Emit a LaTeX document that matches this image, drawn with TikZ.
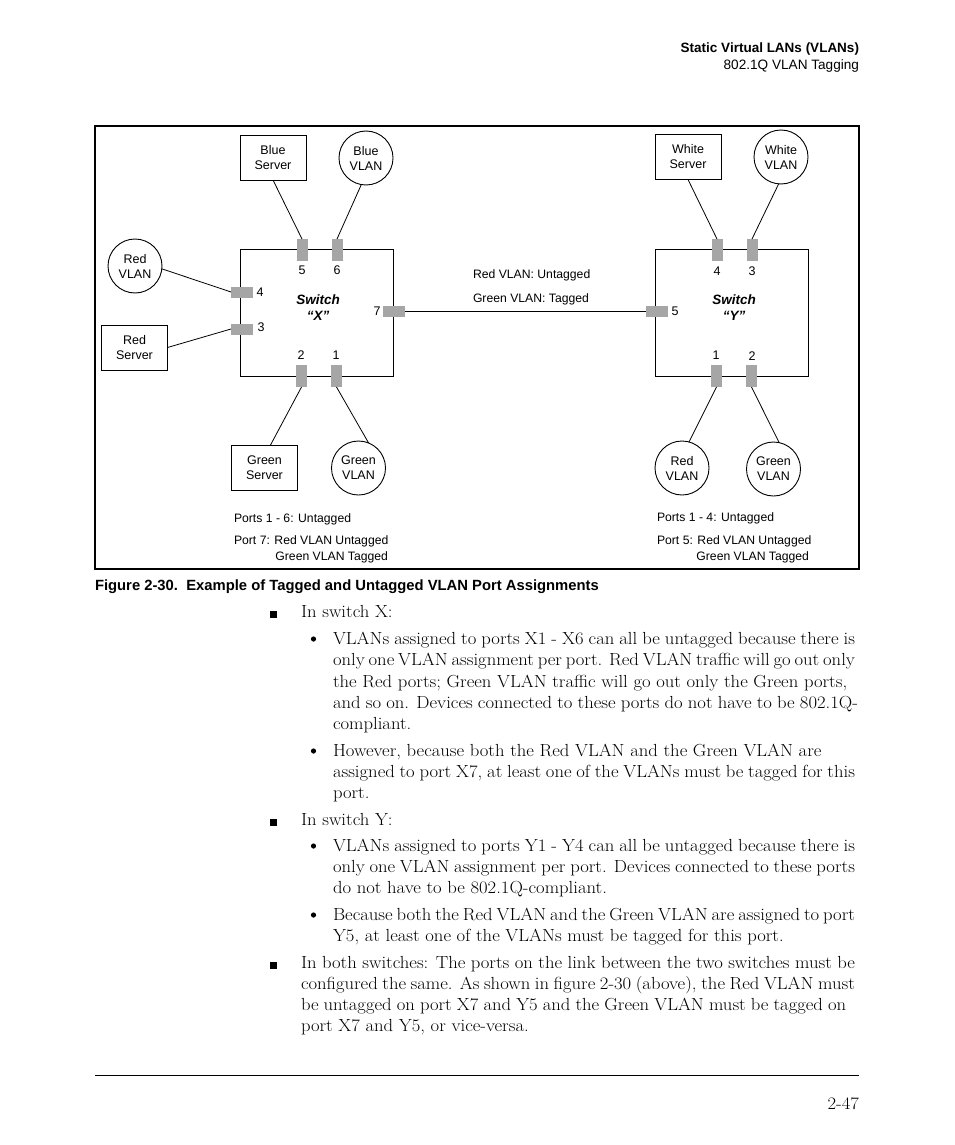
\documentclass[tikz,border=0pt]{standalone}
\usepackage{fontspec}
\newfontfamily\dsans{Liberation Sans}
\definecolor{portgrey}{HTML}{A6A6A6}
\newcommand{\bt}[1]{\scalebox{1.067}[1]{#1}}
\newcommand{\bj}[2]{\scalebox{1.067}[1]{\makebox[#1][s]{#2}}}
\begin{document}
\begin{tikzpicture}[x=1pt,y=-1pt,
  every node/.style={inner sep=0pt, outer sep=0pt},
  lbl/.style={font=\dsans\fontsize{12.5}{15}\selectfont, align=center},
  srv/.style={draw, line width=0.9pt, minimum width=66pt, minimum height=45pt, lbl},
  vlan/.style={draw, circle, line width=0.9pt, minimum size=54pt, lbl},
  sw/.style={draw, line width=0.9pt, minimum width=153pt, minimum height=127pt},
  vport/.style={fill=portgrey, minimum width=11pt, minimum height=22pt},
  hport/.style={fill=portgrey, minimum width=22pt, minimum height=11pt},
  wire/.style={line width=0.8pt},
  num/.style={font=\dsans\fontsize{12.5}{14}\selectfont},
  note/.style={font=\dsans\fontsize{12.2}{14}\selectfont, anchor=base west},
  noter/.style={font=\dsans\fontsize{12.2}{14}\selectfont, anchor=base east},
  swl/.style={font=\dsans\bfseries\itshape\fontsize{13.5}{16.5}\selectfont, align=center},
  body/.style={font=\fontsize{17.5}{21}\selectfont, anchor=base west},
  bodyr/.style={font=\fontsize{17.5}{21}\selectfont, anchor=base east}
]
\fill[white] (0,0) rectangle (954,1145);
\useasboundingbox (0,0) rectangle (954,1145);

% header
\node[anchor=base east, font=\dsans\bfseries\fontsize{13.5}{16}\selectfont] (h1) at (859,53) {Static Virtual LANs (VLANs)};
\node[anchor=base east, font=\dsans\fontsize{13.6}{16}\selectfont] (h2) at (859,70) {802.1Q VLAN Tagging};

% frame
\draw[line width=1.3pt] (95,126) rectangle (859,569);

% switches
\node[sw] (sx) at (316.5,312.5) {};
\node[sw] (sy) at (731.5,312.5) {};

% ports
\node[vport] (x5) at (302,250) {};
\node[vport] (x6) at (337,250) {};
\node[hport] (x4) at (242,292) {};
\node[hport] (x3) at (242,329) {};
\node[hport] (x7) at (394,311.5) {};
\node[vport] (x2) at (301.5,376) {};
\node[vport] (x1) at (336.5,376) {};
\node[vport] (y4) at (717,250) {};
\node[vport] (y3) at (752,250) {};
\node[hport] (y5) at (656.5,311.5) {};
\node[vport] (y1) at (716.5,376) {};
\node[vport] (y2) at (751.5,376) {};

% port numbers
\node[num] (n5) at (302,270) {5};
\node[num] (n6) at (337,270) {6};
\node[num] (n4) at (260,292) {4};
\node[num] (n3) at (261,327) {3};
\node[num] (n7) at (377,311) {7};
\node[num] (n2) at (301,355) {2};
\node[num] (n1) at (336,355) {1};
\node[num] (m4) at (717,271) {4};
\node[num] (m3) at (752,271) {3};
\node[num] (m5) at (675,311) {5};
\node[num] (m1) at (716,355) {1};
\node[num] (m2) at (752,356) {2};

% switch labels
\node[swl] (lx) at (318,307.5) {Switch\\“X”};
\node[swl] (ly) at (734,307.5) {Switch\\“Y”};

% devices
\node[srv] (bs) at (273,157.5) {Blue\\Server};
\node[vlan] (bv) at (366,158) {Blue\\VLAN};
\node[vlan] (rv) at (135,266) {Red\\VLAN};
\node[srv] (rs) at (134.5,347.5) {Red\\Server};
\node[srv] (gs) at (264.5,467.5) {Green\\Server};
\node[vlan] (gv) at (358.5,468) {Green\\VLAN};
\node[srv] (ws) at (688,157) {White\\Server};
\node[vlan] (wv) at (781,157) {White\\VLAN};
\node[vlan] (yrv) at (682,468) {Red\\VLAN};
\node[vlan] (ygv) at (773.5,469) {Green\\VLAN};

% wires
\draw[wire] (bs.south) -- (x5.north);
\draw[wire] (bv.260) -- (x6.north);
\draw[wire] (rv.354) -- (x4.west);
\draw[wire] (rs.east) -- (x3.west);
\draw[wire] (gs.75) -- (x2.south);
\draw[wire] (gv.68) -- (x1.south);
\draw[wire] (x7.east) -- (y5.west);
\draw[wire] (ws.south) -- (y4.north);
\draw[wire] (wv.265) -- (y3.north);
\draw[wire] (yrv.75) -- (y1.south);
\draw[wire] (ygv.78) -- (y2.south);

% link labels
\node[note] (k1) at (473,278.3) {Red VLAN: Untagged};
\node[note] (k2) at (473,302.3) {Green VLAN: Tagged};

% notes
\node[note] (a1) at (234,522.3) {Ports 1 - 6: Untagged};
\node[note] (a2) at (234,544.3) {Port 7: Red VLAN Untagged};
\node[noter] (a3) at (388,560.3) {Green VLAN Tagged};
\node[note] (b1) at (657,521.3) {Ports 1 - 4: Untagged};
\node[note] (b2) at (657,544.3) {Port 5: Red VLAN Untagged};
\node[noter] (b3) at (809,560.3) {Green VLAN Tagged};

% caption
\node[anchor=base west, font=\dsans\bfseries\fontsize{14.8}{17}\selectfont] (cap) at (95,590) {Figure 2-30.~~Example of Tagged and Untagged VLAN Port Assignments};

% body text
\fill (270,611) rectangle (277,618);
\node[body] (t1) at (301,617) {\bt{In switch X:}};
\fill (313.5,639) circle (2.6);
\node[body] (t2) at (333,644) {\bj{489.2pt}{VLANs assigned to ports X1 - X6 can all be untagged because there is}};
\node[body] (t3) at (333,665) {\bj{489.2pt}{only one VLAN assignment per port. Red VLAN traffic will go out only}};
\node[body] (t4) at (333,687) {\bt{the Red ports; Green VLAN traffic will go out only the Green ports,}};
\node[body] (t5) at (333,708) {\bj{492pt}{and so on. Devices connected to these ports do not have to be 802.1Q-}};
\node[body] (t6) at (333,729) {\bt{compliant.}};
\fill (313.5,751) circle (2.6);
\node[body] (t7) at (333,756) {\bt{However, because both the Red VLAN and the Green VLAN are}};
\node[body] (t8) at (333,777) {\bj{489.2pt}{assigned to port X7, at least one of the VLANs must be tagged for this}};
\node[body] (t9) at (333,798) {\bt{port.}};

\fill (270,819) rectangle (277,826);
\node[body] (t10) at (301,825) {\bt{In switch Y:}};
\fill (313.5,846) circle (2.6);
\node[body] (t11) at (333,851) {\bj{489.2pt}{VLANs assigned to ports Y1 - Y4 can all be untagged because there is}};
\node[body] (t12) at (333,872) {\bj{489.2pt}{only one VLAN assignment per port. Devices connected to these ports}};
\node[body] (t13) at (333,893) {\bt{do not have to be 802.1Q-compliant.}};
\fill (313.5,915) circle (2.6);
\node[body] (t14) at (333,920) {\bj{489.2pt}{Because both the Red VLAN and the Green VLAN are assigned to port}};
\node[body] (t15) at (333,941) {\bt{Y5, at least one of the VLANs must be tagged for this port.}};

\fill (270,962) rectangle (277,969);
\node[body] (t16) at (301,968) {\bj{519.2pt}{In both switches: The ports on the link between the two switches must be}};
\node[body] (t17) at (301,989) {\bj{519.2pt}{configured the same. As shown in figure 2-30 (above), the Red VLAN must}};
\node[body] (t18) at (301,1010) {\bj{511pt}{be untagged on port X7 and Y5 and the Green VLAN must be tagged on}};
\node[body] (t19) at (301,1031) {\bt{port X7 and Y5, or vice-versa.}};

% footer
\draw[line width=0.9pt] (95,1075) -- (859,1075);
\node[bodyr] (pg) at (859,1109) {\bt{2-47}};
\end{tikzpicture}
\end{document}
